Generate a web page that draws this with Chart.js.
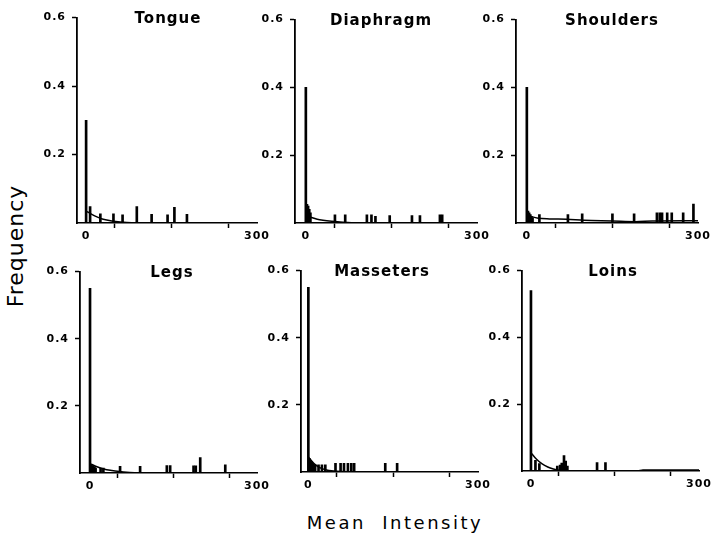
<!DOCTYPE html>
<html>
<head>
<meta charset="utf-8">
<script src="https://cdn.jsdelivr.net/npm/chart.js@4.4.1/dist/chart.umd.min.js"></script>
<style>
  html, body { margin: 0; padding: 0; background: #fff; }
  body { width: 716px; height: 535px; position: relative; overflow: hidden; font-family: "DejaVu Sans", sans-serif; }
  canvas { position: absolute; }
  .lab { position: absolute; color: #000; white-space: pre; }
  #ylab { left: 15px; top: 246px; transform: translate(-50%, -50%) rotate(-90deg); font-size: 22px; letter-spacing: 1px; }
  #xlab { left: 395px; top: 522px; transform: translate(-50%, -50%); font-size: 18px; letter-spacing: 2.5px; }
</style>
</head>
<body>
<div class="lab" id="ylab">Frequency</div>
<div class="lab" id="xlab">Mean  Intensity</div>
<script>
// panel titles and tick values
var titles = ["Tongue", "Diaphragm", "Shoulders", "Legs", "Masseters", "Loins"];
var yTicks = [0, 0.2, 0.4, 0.6];
var xTicks = [0, 100, 200, 300];
var xTickLabels = ["0", "", "", "300"];

// histogram spikes (intensity, frequency)
var tongueBarX = [0, 7, 25, 48, 64, 89, 115, 143, 155, 177];
var tongueBarY = [0.30, 0.048, 0.027, 0.027, 0.024, 0.048, 0.025, 0.024, 0.046, 0.025];
var diaphragmBarX = [0, 2, 4, 6, 8, 51, 69, 107, 115, 122, 147, 186, 200, 235, 239];
var diaphragmBarY = [0.40, 0.055, 0.05, 0.04, 0.03, 0.024, 0.024, 0.024, 0.024, 0.02, 0.022, 0.022, 0.022, 0.024, 0.024];
var shouldersBarX = [0, 2, 4, 6, 8, 10, 22, 72, 97, 150, 188, 228, 233, 237, 246, 254, 274, 292];
var shouldersBarY = [0.40, 0.035, 0.03, 0.025, 0.02, 0.015, 0.025, 0.025, 0.027, 0.027, 0.027, 0.03, 0.03, 0.03, 0.03, 0.03, 0.03, 0.056];
var legsBarX = [0, 2, 4, 6, 8, 10, 19, 24, 54, 90, 138, 144, 186, 190, 198, 243];
var legsBarY = [0.55, 0.025, 0.022, 0.02, 0.018, 0.015, 0.015, 0.015, 0.02, 0.02, 0.022, 0.022, 0.021, 0.021, 0.046, 0.024];
var massetersBarX = [0, 2, 4, 6, 8, 12, 18, 24, 30, 48, 57, 63, 70, 76, 81, 136, 157];
var massetersBarY = [0.55, 0.04, 0.035, 0.03, 0.025, 0.021, 0.021, 0.021, 0.021, 0.026, 0.026, 0.026, 0.026, 0.026, 0.026, 0.026, 0.026];
var loinsBarX = [0, 8, 15, 47, 52, 55, 59, 62, 65, 118, 133];
var loinsBarY = [0.54, 0.032, 0.022, 0.015, 0.018, 0.024, 0.046, 0.03, 0.015, 0.025, 0.025];

// fitted curves
var tongueFitX = [0, 10, 20, 30, 45, 60, 80, 300];
var tongueFitY = [0.035, 0.025, 0.017, 0.011, 0.006, 0.003, 0.001, 0];
var diaphragmFitX = [0, 10, 20, 30, 45, 60, 80, 300];
var diaphragmFitY = [0.022, 0.016, 0.011, 0.008, 0.005, 0.003, 0.001, 0];
var shouldersFitX = [0, 10, 20, 40, 70, 100, 150, 190, 220, 300];
var shouldersFitY = [0.025, 0.018, 0.014, 0.012, 0.011, 0.008, 0.006, 0.004, 0.006, 0.007];
var legsFitX = [0, 10, 20, 30, 45, 60, 80, 300];
var legsFitY = [0.028, 0.02, 0.014, 0.01, 0.006, 0.003, 0.001, 0];
var massetersFitX = [0, 10, 20, 30, 45, 70, 300];
var massetersFitY = [0.045, 0.025, 0.013, 0.007, 0.003, 0.001, 0];
var loinsFitX = [0, 10, 20, 30, 40, 50, 60, 190, 200, 300];
var loinsFitY = [0.055, 0.035, 0.021, 0.012, 0.006, 0.002, 0, 0, 0.003, 0.003];

var barX = [tongueBarX, diaphragmBarX, shouldersBarX, legsBarX, massetersBarX, loinsBarX];
var barY = [tongueBarY, diaphragmBarY, shouldersBarY, legsBarY, massetersBarY, loinsBarY];
var fitX = [tongueFitX, diaphragmFitX, shouldersFitX, legsFitX, massetersFitX, loinsFitX];
var fitY = [tongueFitY, diaphragmFitY, shouldersFitY, legsFitY, massetersFitY, loinsFitY];

// plot area placement of each panel on the page
var panels = [
  { left: 77, top: 17, w: 180, h: 206, xMin: -16, titleX: 168 },
  { left: 295, top: 19, w: 182, h: 204, xMin: -19, titleX: 381 },
  { left: 516, top: 19, w: 182, h: 204, xMin: -19, titleX: 612 },
  { left: 80, top: 271, w: 177, h: 202, xMin: -18, titleX: 172 },
  { left: 301, top: 270, w: 177, h: 202, xMin: -13, titleX: 382 },
  { left: 522, top: 270, w: 177, h: 201, xMin: -16, titleX: 613 }
];

var PAD_L = 45, PAD_T = 12, PAD_R = 18, PAD_B = 26;
var tickFont = { family: "DejaVu Sans", size: 11, weight: "bold" };

function pairs(xs, ys) {
  return xs.map(function (x, k) { return { x: x, y: ys[k] }; });
}

var spacingPlugin = {
  id: "spacing",
  beforeDraw: function (chart) { chart.ctx.letterSpacing = "1px"; }
};

var titlePlugin = {
  id: "panelTitle",
  afterDraw: function (chart) {
    var o = chart.options.plugins.panelTitle;
    var ctx = chart.ctx;
    ctx.save();
    ctx.letterSpacing = "1px";
    ctx.font = "bold 15px 'DejaVu Sans'";
    ctx.fillStyle = "#000";
    ctx.textAlign = "center";
    ctx.textBaseline = "middle";
    ctx.fillText(o.text, o.x, chart.chartArea.top + 2);
    ctx.restore();
  }
};

panels.forEach(function (p, i) {
  var c = document.createElement("canvas");
  c.width = p.w + PAD_L + PAD_R;
  c.height = p.h + PAD_T + PAD_B;
  c.style.left = (p.left - PAD_L) + "px";
  c.style.top = (p.top - PAD_T) + "px";
  document.body.appendChild(c);

  new Chart(c, {
    type: "bar",
    data: {
      datasets: [
        {
          type: "line",
          data: pairs(fitX[i], fitY[i]),
          borderColor: "#000",
          borderWidth: 1.5,
          pointRadius: 0,
          cubicInterpolationMode: "monotone",
          order: 1
        },
        {
          type: "bar",
          data: pairs(barX[i], barY[i]),
          backgroundColor: "#000",
          barThickness: 2,
          order: 2
        }
      ]
    },
    options: {
      responsive: false,
      animation: false,
      layout: { padding: { left: 0, top: PAD_T, right: PAD_R, bottom: 0 } },
      plugins: {
        legend: { display: false },
        tooltip: { enabled: false },
        panelTitle: { text: titles[i], x: p.titleX - (p.left - PAD_L) }
      },
      scales: {
        x: {
          type: "linear",
          offset: false,
          min: p.xMin,
          max: 300,
          afterFit: function (s) { s.height = PAD_B; },
          afterBuildTicks: function (s) { s.ticks = xTicks.map(function (v) { return { value: v }; }); },
          ticks: {
            font: tickFont,
            color: "#000",
            padding: 2,
            maxRotation: 0,
            autoSkip: false,
            callback: function (v) { var k = xTicks.indexOf(v); return k < 0 ? "" : xTickLabels[k]; }
          },
          grid: { drawOnChartArea: false, drawTicks: true, tickLength: 5, tickColor: "#000", tickWidth: 1.5 },
          border: { display: true, color: "#000", width: 1.6 }
        },
        y: {
          min: 0,
          max: 0.6,
          afterFit: function (s) { s.width = PAD_L; },
          afterBuildTicks: function (s) { s.ticks = yTicks.map(function (v) { return { value: v }; }); },
          ticks: {
            font: tickFont,
            color: "#000",
            padding: 6,
            callback: function (v) { return v === 0 ? "" : v.toFixed(1); }
          },
          grid: {
            drawOnChartArea: false,
            drawTicks: true,
            tickLength: 5,
            tickWidth: 1.5,
            tickColor: function (ctx) { return ctx.tick && ctx.tick.value === 0 ? "rgba(0,0,0,0)" : "#000"; }
          },
          border: { display: true, color: "#000", width: 1.8 }
        }
      }
    },
    plugins: [spacingPlugin, titlePlugin]
  });
});
</script>
</body>
</html>
